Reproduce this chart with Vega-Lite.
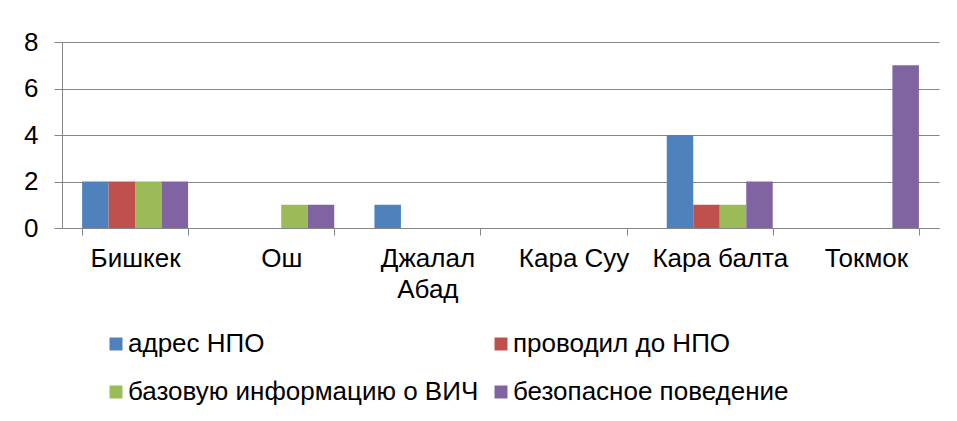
{
  "$schema": "https://vega.github.io/schema/vega-lite/v6.json",
  "width": 877,
  "height": 186,
  "autosize": {"type": "none"},
  "padding": {"left": 62, "top": 42, "right": 18, "bottom": 193},
  "config": {"view": {"stroke": null}, "font": "Liberation Sans"},
  "data": {
    "values": [
      {"city": "Бишкек", "series": "адрес НПО", "value": 2},
      {"city": "Бишкек", "series": "проводил до НПО", "value": 2},
      {"city": "Бишкек", "series": "базовую информацию о ВИЧ", "value": 2},
      {"city": "Бишкек", "series": "безопасное поведение", "value": 2},
      {"city": "Ош", "series": "адрес НПО", "value": 0},
      {"city": "Ош", "series": "проводил до НПО", "value": 0},
      {"city": "Ош", "series": "базовую информацию о ВИЧ", "value": 1},
      {"city": "Ош", "series": "безопасное поведение", "value": 1},
      {"city": "Джалал Абад", "series": "адрес НПО", "value": 1},
      {"city": "Джалал Абад", "series": "проводил до НПО", "value": 0},
      {"city": "Джалал Абад", "series": "базовую информацию о ВИЧ", "value": 0},
      {"city": "Джалал Абад", "series": "безопасное поведение", "value": 0},
      {"city": "Кара Суу", "series": "адрес НПО", "value": 0},
      {"city": "Кара Суу", "series": "проводил до НПО", "value": 0},
      {"city": "Кара Суу", "series": "базовую информацию о ВИЧ", "value": 0},
      {"city": "Кара Суу", "series": "безопасное поведение", "value": 0},
      {"city": "Кара балта", "series": "адрес НПО", "value": 4},
      {"city": "Кара балта", "series": "проводил до НПО", "value": 1},
      {"city": "Кара балта", "series": "базовую информацию о ВИЧ", "value": 1},
      {"city": "Кара балта", "series": "безопасное поведение", "value": 2},
      {"city": "Токмок", "series": "адрес НПО", "value": 0},
      {"city": "Токмок", "series": "проводил до НПО", "value": 0},
      {"city": "Токмок", "series": "базовую информацию о ВИЧ", "value": 0},
      {"city": "Токмок", "series": "безопасное поведение", "value": 7}
    ]
  },
  "mark": {"type": "bar"},
  "encoding": {
    "x": {
      "field": "city",
      "type": "nominal",
      "sort": ["Бишкек", "Ош", "Джалал Абад", "Кара Суу", "Кара балта", "Токмок"],
      "scale": {"paddingInner": 0.275, "paddingOuter": 0.1375},
      "axis": {
        "title": null,
        "labelAngle": 0,
        "labelFontSize": 26,
        "labelColor": "#000000",
        "labelLimit": 300,
        "labelPadding": 10,
        "labelLineHeight": 31,
        "labelExpr": "datum.label == 'Джалал Абад' ? ['Джалал', 'Абад'] : datum.label",
        "tickBand": "extent",
        "tickSize": 7,
        "tickColor": "#868686",
        "domainColor": "#868686",
        "grid": false
      }
    },
    "xOffset": {
      "field": "series",
      "type": "nominal",
      "scale": {"domain": ["адрес НПО", "проводил до НПО", "базовую информацию о ВИЧ", "безопасное поведение"]}
    },
    "y": {
      "field": "value",
      "type": "quantitative",
      "scale": {"domain": [0, 8]},
      "axis": {
        "title": null,
        "values": [0, 2, 4, 6, 8],
        "labelFontSize": 26,
        "labelColor": "#000000",
        "labelPadding": 16,
        "tickSize": 8,
        "tickColor": "#868686",
        "domainColor": "#868686",
        "gridColor": "#868686",
        "grid": true
      }
    },
    "color": {
      "field": "series",
      "type": "nominal",
      "scale": {
        "domain": ["адрес НПО", "проводил до НПО", "базовую информацию о ВИЧ", "безопасное поведение"],
        "range": ["#4F81BD", "#C0504D", "#9BBB59", "#8064A2"]
      },
      "legend": {
        "title": null,
        "orient": "none",
        "direction": "horizontal",
        "legendX": 41,
        "legendY": 289,
        "columns": 2,
        "columnPadding": 9,
        "rowPadding": 22,
        "symbolType": "square",
        "symbolSize": 169,
        "symbolStrokeWidth": 0,
        "labelFontSize": 26,
        "labelColor": "#000000",
        "labelOffset": -1,
        "labelLimit": 500
      }
    }
  }
}
